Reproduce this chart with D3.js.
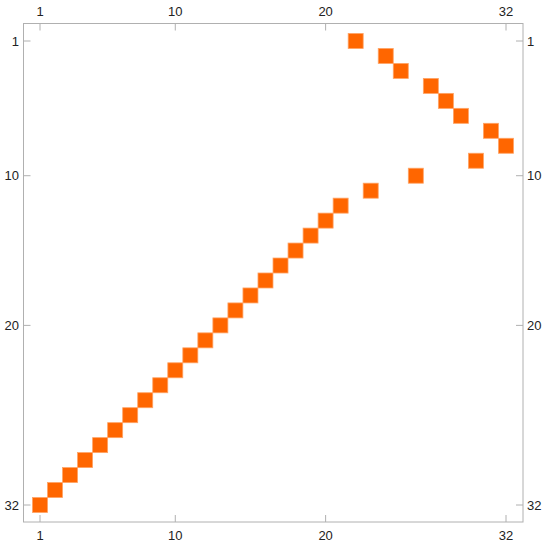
<!DOCTYPE html>
<html>
<head>
<meta charset="utf-8">
<script src="https://cdn.jsdelivr.net/npm/d3@7"></script>
<style>
  body { margin: 0; background: #fff; }
  text { font-family: "Liberation Sans", Arial, sans-serif; font-size: 13px; fill: #222; }
</style>
</head>
<body>
<div id="plot"></div>
<script>
/* permutation matrix: column index of the filled cell in each row */
var rows = d3.range(1, 33);
var cols = [22, 24, 25, 27, 28, 29, 31, 32, 30, 26, 23,
            21, 20, 19, 18, 17, 16, 15, 14, 13, 12, 11, 10, 9, 8, 7, 6, 5, 4, 3, 2, 1];
var tickValues = [1, 10, 20, 32];

var W = 550, H = 547;
var frame = {l: 23.5, r: 523, t: 23.5, b: 522};

var svg = d3.select('#plot')
    .append('svg')
    .attr('width', W)
    .attr('height', H);

var x = d3.scaleLinear().domain([1, 32]).range([40, 506]);
var y = d3.scaleLinear().domain([1, 32]).range([41, 505]);

var points = rows.map(function(r, i) { return {row: r, col: cols[i]}; });

// cells
var size = 15;
svg.selectAll('.cell')
    .data(points)
    .enter()
    .append('rect')
    .attr('class', 'cell')
    .attr('x', function(d) { return x(d.col) - size / 2; })
    .attr('y', function(d) { return y(d.row) - size / 2; })
    .attr('width', size)
    .attr('height', size)
    .attr('fill', '#ff6600')
    .attr('stroke', '#ffa466')
    .attr('stroke-width', 0.8);

// frame
svg.append('rect')
    .attr('x', frame.l)
    .attr('y', frame.t)
    .attr('width', frame.r - frame.l)
    .attr('height', frame.b - frame.t)
    .attr('fill', 'none')
    .attr('stroke', '#b0b0b0')
    .attr('stroke-width', 1);

var tl = 7;
var tickColor = '#b0b0b0';

// top and bottom ticks
tickValues.forEach(function(v) {
    svg.append('line')
        .attr('x1', x(v)).attr('x2', x(v))
        .attr('y1', frame.t).attr('y2', frame.t + tl)
        .attr('stroke', tickColor);
    svg.append('line')
        .attr('x1', x(v)).attr('x2', x(v))
        .attr('y1', frame.b).attr('y2', frame.b - tl)
        .attr('stroke', tickColor);
    svg.append('text')
        .attr('x', x(v)).attr('y', 16)
        .attr('text-anchor', 'middle')
        .text(v);
    svg.append('text')
        .attr('x', x(v)).attr('y', 540)
        .attr('text-anchor', 'middle')
        .text(v);
});

// left and right ticks
tickValues.forEach(function(v) {
    svg.append('line')
        .attr('x1', frame.l).attr('x2', frame.l + tl)
        .attr('y1', y(v)).attr('y2', y(v))
        .attr('stroke', tickColor);
    svg.append('line')
        .attr('x1', frame.r).attr('x2', frame.r - tl)
        .attr('y1', y(v)).attr('y2', y(v))
        .attr('stroke', tickColor);
    svg.append('text')
        .attr('x', 19).attr('y', y(v) + 4.5)
        .attr('text-anchor', 'end')
        .text(v);
    svg.append('text')
        .attr('x', 527).attr('y', y(v) + 4.5)
        .attr('text-anchor', 'start')
        .text(v);
});
</script>
</body>
</html>
